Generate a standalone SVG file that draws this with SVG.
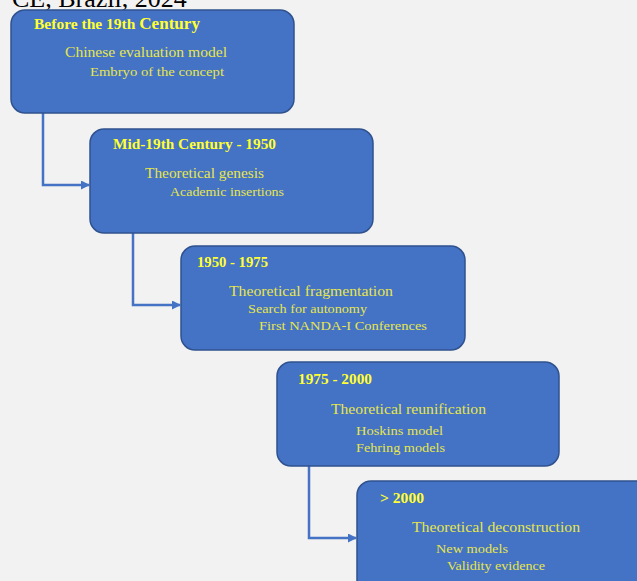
<svg xmlns="http://www.w3.org/2000/svg" width="637" height="581" viewBox="0 0 637 581">
<style>
.box{fill:#4472c4;stroke:#2f528f;stroke-width:1.5}
.t{font-family:"Liberation Serif",serif;font-weight:bold;font-size:14.5px;fill:#ffff33}
.m{font-family:"Liberation Serif",serif;font-size:15px;fill:#e6e64d}
.s{font-family:"Liberation Serif",serif;font-size:13.5px;fill:#e6e64d}
.c{fill:none;stroke:#4472c4;stroke-width:2.5}
</style>
<defs>
<marker id="ah" markerWidth="9" markerHeight="9" refX="8" refY="4.5" orient="auto" markerUnits="userSpaceOnUse">
<path d="M0,0 L9,4.5 L0,9 Z" fill="#4472c4"/>
</marker>
</defs>
<rect width="637" height="581" fill="#f2f2f2"/>
<text x="12" y="7" font-family="Liberation Serif,serif" font-size="26" fill="#000">CE, Brazil, 2024</text>
<g id="connectors">
<path class="c" d="M43,113 V185 H89" marker-end="url(#ah)"/>
<path class="c" d="M133,233 V305 H180" marker-end="url(#ah)"/>
<path class="c" d="M309,466 V538 H356" marker-end="url(#ah)"/>
</g>
<g id="n1">
<rect class="box" x="11" y="10" width="283" height="103" rx="14"/>
<text class="t" x="34" y="29" textLength="166" lengthAdjust="spacingAndGlyphs">Before the 19th <tspan font-size="16">Century</tspan></text>
<text class="m" x="65" y="57" textLength="162" lengthAdjust="spacingAndGlyphs">Chinese evaluation model</text>
<text class="s" x="90" y="76" textLength="134" lengthAdjust="spacingAndGlyphs">Embryo of the concept</text>
</g>
<g id="n2">
<rect class="box" x="90" y="129" width="283" height="104" rx="14"/>
<text class="t" x="113" y="149" textLength="163" lengthAdjust="spacingAndGlyphs">Mid-19th Century - 1950</text>
<text class="m" x="145" y="178" textLength="119" lengthAdjust="spacingAndGlyphs">Theoretical genesis</text>
<text class="s" x="170" y="196" textLength="114" lengthAdjust="spacingAndGlyphs">Academic insertions</text>
</g>
<g id="n3">
<rect class="box" x="181" y="246" width="284" height="104" rx="14"/>
<text class="t" x="197" y="267" textLength="71" lengthAdjust="spacingAndGlyphs">1950 - 1975</text>
<text class="m" x="229" y="296" textLength="164" lengthAdjust="spacingAndGlyphs">Theoretical fragmentation</text>
<text class="s" x="248" y="313" textLength="119" lengthAdjust="spacingAndGlyphs">Search for autonomy</text>
<text class="s" x="259" y="330" textLength="168" lengthAdjust="spacingAndGlyphs">First NANDA-I Conferences</text>
</g>
<g id="n4">
<rect class="box" x="277" y="362" width="282" height="104" rx="14"/>
<text class="t" x="298" y="384" textLength="74" lengthAdjust="spacingAndGlyphs">1975 - 2000</text>
<text class="m" x="331" y="414" textLength="155" lengthAdjust="spacingAndGlyphs">Theoretical reunification</text>
<text class="s" x="356" y="435" textLength="87" lengthAdjust="spacingAndGlyphs">Hoskins model</text>
<text class="s" x="356" y="452" textLength="89" lengthAdjust="spacingAndGlyphs">Fehring models</text>
</g>
<g id="n5">
<rect class="box" x="357" y="481" width="300" height="120" rx="14"/>
<text class="t" x="380" y="503" textLength="44" lengthAdjust="spacingAndGlyphs">&gt; 2000</text>
<text class="m" x="412" y="532" textLength="168" lengthAdjust="spacingAndGlyphs">Theoretical deconstruction</text>
<text class="s" x="436" y="553" textLength="72" lengthAdjust="spacingAndGlyphs">New models</text>
<text class="s" x="447" y="570" textLength="98" lengthAdjust="spacingAndGlyphs">Validity evidence</text>
</g>
</svg>
